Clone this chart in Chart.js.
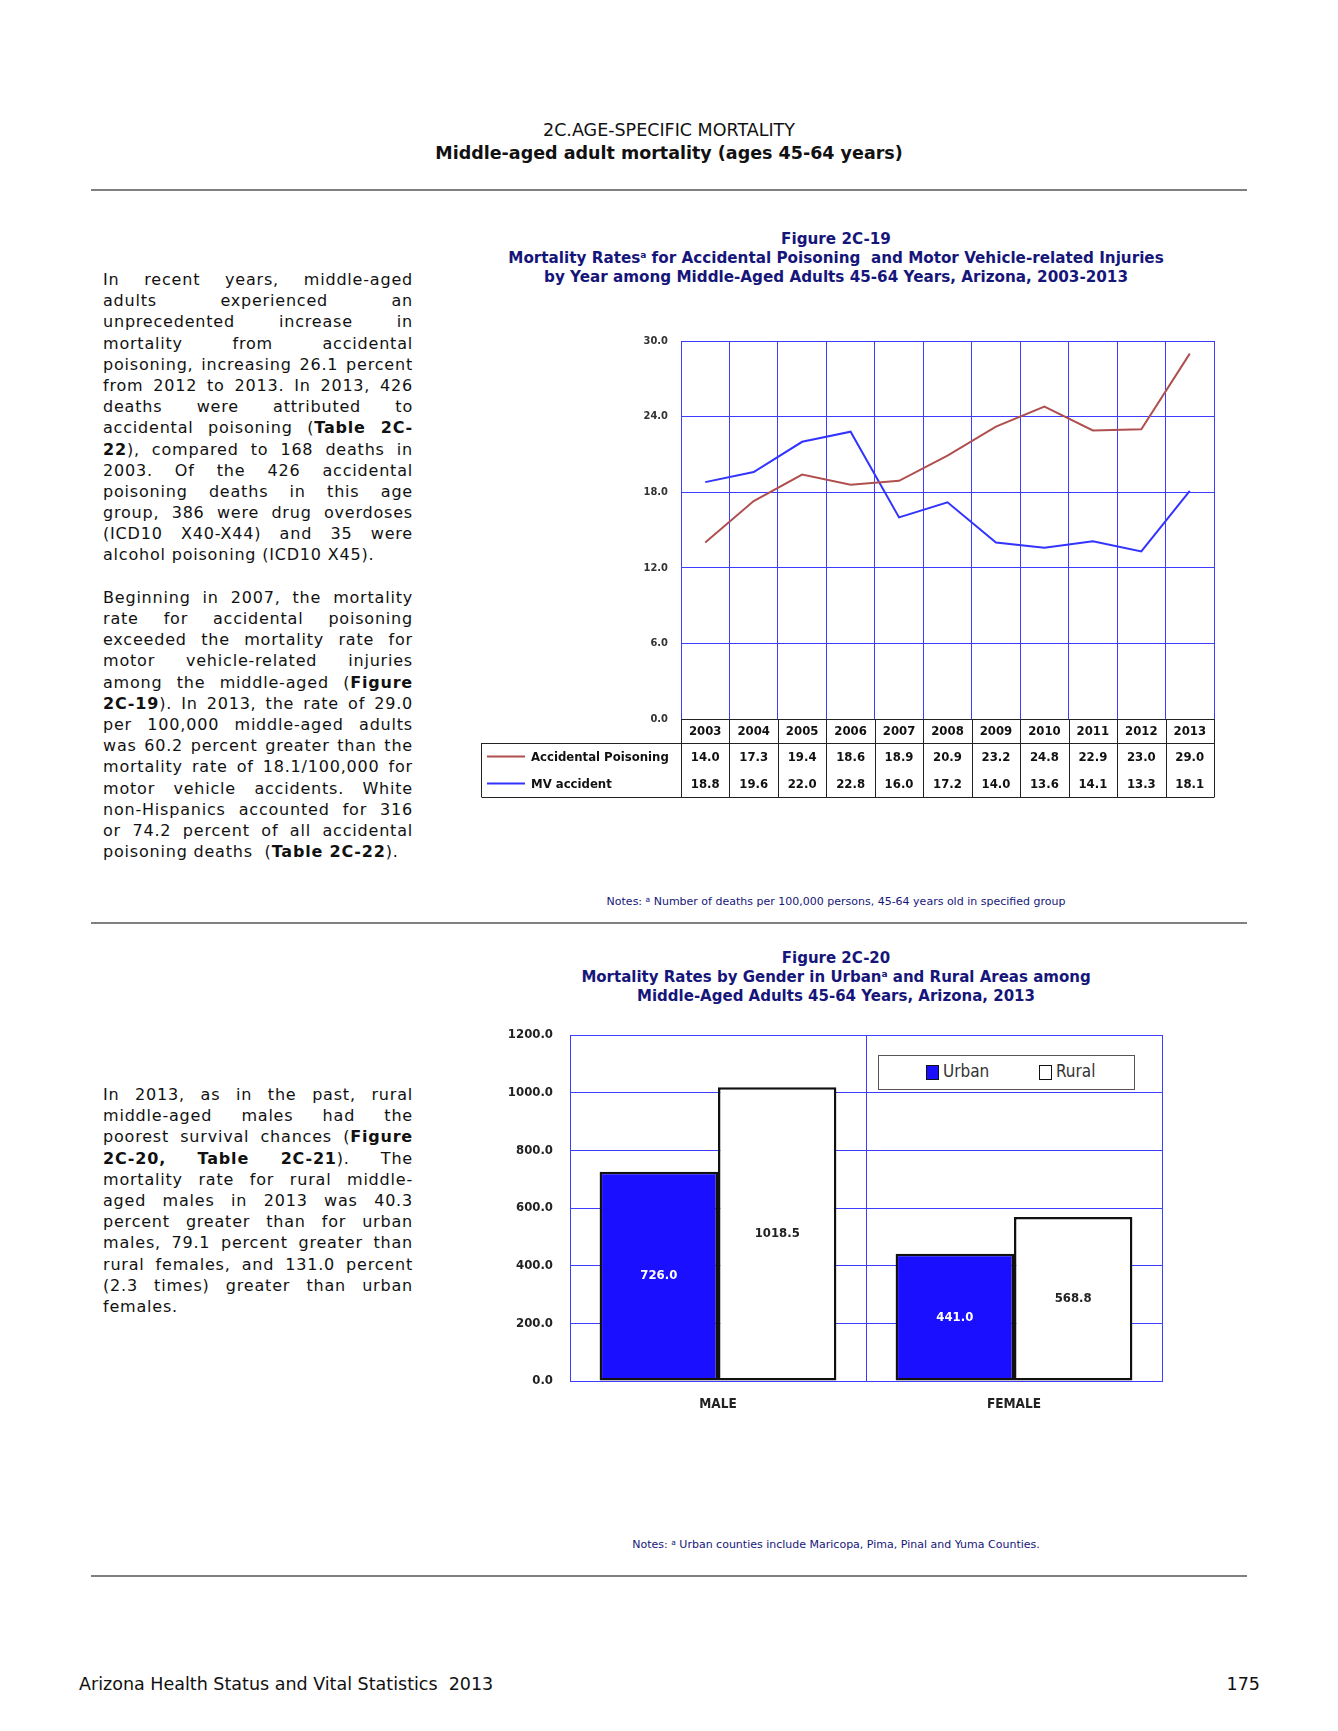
<!DOCTYPE html>
<html>
<head>
<meta charset="utf-8">
<script src="https://cdn.jsdelivr.net/npm/chart.js@4.4.0/dist/chart.umd.min.js"></script>
<style>
body { margin: 0; background: #fff; }
#page { position: relative; width: 1338px; height: 1731px; overflow: hidden; font-family: 'DejaVu Sans', Verdana, sans-serif; color: #111; }
.hr { position: absolute; left: 91px; width: 1156px; height: 0; border-top: 2px solid #808080; }
.head { position: absolute; left: 0; width: 1338px; text-align: center; font-size: 17.5px; line-height: 22px; }
.col { position: absolute; left: 103px; width: 310px; font-size: 16px; line-height: 21.2px; letter-spacing: 0.8px; }
.col div { text-align: justify; text-align-last: justify; height: 21.2px; }
.col div.last { text-align-last: left; }
.figt { position: absolute; left: 436px; width: 800px; text-align: center; color: #16167a; font-weight: bold; line-height: 19px; }
.figt sup { font-size: 9px; vertical-align: 5px; line-height: 0; }
.note { position: absolute; left: 486px; width: 700px; text-align: center; color: #16167a; font-size: 11px; }
.note sup { font-size: 7.5px; vertical-align: 3px; line-height: 0; }
.cv { position: absolute; }
#legend { position: absolute; left: 878px; top: 1055px; width: 255px; height: 33px; border: 1.5px solid #555; background: #fff; font-family: 'DejaVu Sans Condensed', 'Liberation Sans Narrow', 'Liberation Sans', sans-serif; font-size: 17px; color: #333; }
#legend .sw { position: absolute; top: 9px; width: 11px; height: 13px; border: 1.5px solid #111; }
#legend .lt { position: absolute; top: 5px; }
.foot { position: absolute; top: 1674px; font-size: 17.5px; color: #111; }
</style>
</head>
<body>
<div id="page">
  <div class="head" style="top:119px;">2C.AGE-SPECIFIC MORTALITY</div>
  <div class="head" style="top:142px;font-weight:bold;">Middle-aged adult mortality (ages 45-64 years)</div>
  <div class="hr" style="top:189px;"></div>

  <div class="col" style="top:269px;">
    <div>In recent years, middle-aged</div>
    <div>adults experienced an</div>
    <div>unprecedented increase in</div>
    <div>mortality from accidental</div>
    <div>poisoning, increasing 26.1 percent</div>
    <div>from 2012 to 2013. In 2013, 426</div>
    <div>deaths were attributed to</div>
    <div>accidental poisoning (<b>Table 2C-</b></div>
    <div><b>22</b>), compared to 168 deaths in</div>
    <div>2003. Of the 426 accidental</div>
    <div>poisoning deaths in this age</div>
    <div>group, 386 were drug overdoses</div>
    <div>(ICD10 X40-X44) and 35 were</div>
    <div class="last">alcohol poisoning (ICD10 X45).</div>
    <div class="last"></div>
    <div>Beginning in 2007, the mortality</div>
    <div>rate for accidental poisoning</div>
    <div>exceeded the mortality rate for</div>
    <div>motor vehicle-related injuries</div>
    <div>among the middle-aged (<b>Figure</b></div>
    <div><b>2C-19</b>). In 2013, the rate of 29.0</div>
    <div>per 100,000 middle-aged adults</div>
    <div>was 60.2 percent greater than the</div>
    <div>mortality rate of 18.1/100,000 for</div>
    <div>motor vehicle accidents. White</div>
    <div>non-Hispanics accounted for 316</div>
    <div>or 74.2 percent of all accidental</div>
    <div class="last">poisoning deaths &nbsp;(<b>Table 2C-22</b>).</div>
  </div>

  <div class="figt" style="top:230px;font-size:15.2px;">
    Figure 2C-19<br>
    Mortality Rates<sup>a</sup> for Accidental Poisoning &nbsp;and Motor Vehicle-related Injuries<br>
    by Year among Middle-Aged Adults 45-64 Years, Arizona, 2003-2013
  </div>

  <canvas id="lineChart" class="cv" style="left:470px;top:320px;" width="760" height="490"></canvas>

  <div class="note" style="top:895px;">Notes: <sup>a</sup> Number of deaths per 100,000 persons, 45-64 years old in specified group</div>
  <div class="hr" style="top:922px;"></div>

  <div class="figt" style="top:949px;font-size:15px;">
    Figure 2C-20<br>
    Mortality Rates by Gender in Urban<sup>a</sup> and Rural Areas among<br>
    Middle-Aged Adults 45-64 Years, Arizona, 2013
  </div>

  <div class="col" style="top:1084px;">
    <div>In 2013, as in the past, rural</div>
    <div>middle-aged males had the</div>
    <div>poorest survival chances (<b>Figure</b></div>
    <div><b>2C-20, Table 2C-21</b>). The</div>
    <div>mortality rate for rural middle-</div>
    <div>aged males in 2013 was 40.3</div>
    <div>percent greater than for urban</div>
    <div>males, 79.1 percent greater than</div>
    <div>rural females, and 131.0 percent</div>
    <div>(2.3 times) greater than urban</div>
    <div class="last">females.</div>
  </div>

  <canvas id="barChart" class="cv" style="left:460px;top:1020px;" width="720" height="410"></canvas>
  <div id="legend">
    <div class="sw" style="left:47px;background:#1a10ff;"></div><div class="lt" style="left:64px;">Urban</div>
    <div class="sw" style="left:160px;background:#fff;"></div><div class="lt" style="left:177px;">Rural</div>
  </div>

  <div class="note" style="top:1538px;">Notes: <sup>a</sup> Urban counties include Maricopa, Pima, Pinal and Yuma Counties.</div>
  <div class="hr" style="top:1575px;"></div>

  <div class="foot" style="left:79px;">Arizona Health Status and Vital Statistics &nbsp;2013</div>
  <div class="foot" style="left:1160px;width:100px;text-align:right;">175</div>
</div>

<script>
const years = ['2003','2004','2005','2006','2007','2008','2009','2010','2011','2012','2013'];
const poisoning = [14.0, 17.3, 19.4, 18.6, 18.9, 20.9, 23.2, 24.8, 22.9, 23.0, 29.0];
const mvAccident = [18.8, 19.6, 22.0, 22.8, 16.0, 17.2, 14.0, 13.6, 14.1, 13.3, 18.1];

const genders = ['MALE', 'FEMALE'];
const urban = [726.0, 441.0];
const rural = [1018.5, 568.8];

const narrow = "'DejaVu Sans Condensed', 'Liberation Sans Narrow', 'Liberation Sans', sans-serif";
const gridBlue = '#3d3dff';
const poisonColor = '#b04f4f';
const mvColor = '#3333ff';

// table under the line chart, laid out on the x scale
const tablePlugin = {
  id: 'dataTable',
  afterDraw(chart) {
    const { ctx, chartArea } = chart;
    const x = chart.scales.x;
    const half = (x.getPixelForValue(1) - x.getPixelForValue(0)) / 2;
    const top = chartArea.bottom;
    const r1 = top + 24, r2 = r1 + 27, r3 = r2 + 27;
    const legL = 11.5;
    const right = Math.round(x.getPixelForValue(years.length - 1) + half) + 0.5;
    ctx.save();
    ctx.strokeStyle = '#222';
    ctx.lineWidth = 1;
    ctx.beginPath();
    for (let i = 0; i <= years.length; i++) {
      const b = Math.round(x.getPixelForValue(i) - half) + 0.5;
      ctx.moveTo(b, top);
      ctx.lineTo(b, r3);
    }
    ctx.moveTo(legL, r1 + 0.5); ctx.lineTo(right, r1 + 0.5);
    ctx.moveTo(legL, r3 + 0.5); ctx.lineTo(right, r3 + 0.5);
    ctx.moveTo(legL, r1); ctx.lineTo(legL, r3);
    ctx.stroke();

    ctx.textAlign = 'center';
    ctx.textBaseline = 'middle';
    ctx.fillStyle = '#111';
    ctx.font = 'bold 13px ' + narrow;
    years.forEach((y, i) => {
      const cx = x.getPixelForValue(i);
      ctx.fillText(y, cx, (top + r1) / 2 + 1);
      ctx.fillText(poisoning[i].toFixed(1), cx, (r1 + r2) / 2 + 1);
      ctx.fillText(mvAccident[i].toFixed(1), cx, (r2 + r3) / 2 + 1);
    });

    const rows = [['Accidental Poisoning', poisonColor, (r1 + r2) / 2], ['MV accident', mvColor, (r2 + r3) / 2]];
    rows.forEach(([label, color, cy]) => {
      ctx.strokeStyle = color;
      ctx.lineWidth = 2;
      ctx.beginPath();
      ctx.moveTo(17, cy);
      ctx.lineTo(55, cy);
      ctx.stroke();
      ctx.textAlign = 'left';
      ctx.fillText(label, 61, cy + 1);
    });
    ctx.restore();
  }
};

new Chart(document.getElementById('lineChart'), {
  type: 'line',
  data: {
    labels: years,
    datasets: [
      { label: 'Accidental Poisoning', data: poisoning, borderColor: poisonColor, borderWidth: 2, pointRadius: 0, tension: 0 },
      { label: 'MV accident', data: mvAccident, borderColor: mvColor, borderWidth: 2, pointRadius: 0, tension: 0 }
    ]
  },
  options: {
    responsive: false,
    animation: false,
    layout: { padding: { top: 21, right: 16, left: 0, bottom: 13 } },
    plugins: { legend: { display: false }, tooltip: { enabled: false } },
    scales: {
      x: {
        offset: true,
        grid: { offset: true, color: gridBlue, drawTicks: false },
        border: { color: '#222' },
        ticks: { display: false },
        afterFit: (s) => { s.height = 78; }
      },
      y: {
        min: 0, max: 30,
        grid: { color: gridBlue, drawTicks: false },
        border: { color: gridBlue },
        ticks: { stepSize: 6, padding: 13, color: '#333', font: { family: narrow, size: 11, weight: 'bold' }, callback: (v) => v.toFixed(1) },
        afterFit: (s) => { s.width = 211; }
      }
    }
  },
  plugins: [tablePlugin]
});

// value labels centred in each bar
const barLabels = {
  id: 'barLabels',
  afterDatasetsDraw(chart) {
    const { ctx } = chart;
    ctx.save();
    ctx.font = 'bold 13px ' + narrow;
    ctx.textAlign = 'center';
    ctx.textBaseline = 'middle';
    chart.data.datasets.forEach((ds, di) => {
      chart.getDatasetMeta(di).data.forEach((bar, i) => {
        ctx.fillStyle = di === 0 ? '#fff' : '#222';
        ctx.fillText(ds.data[i].toFixed(1), bar.x, (bar.y + bar.base) / 2);
      });
    });
    ctx.restore();
  }
};

new Chart(document.getElementById('barChart'), {
  type: 'bar',
  data: {
    labels: genders,
    datasets: [
      { label: 'Urban', data: urban, backgroundColor: '#1a10ff', borderColor: '#111', borderWidth: 2.5, borderSkipped: false, categoryPercentage: 0.8, barPercentage: 1.0 },
      { label: 'Rural', data: rural, backgroundColor: '#fff', borderColor: '#111', borderWidth: 2.5, borderSkipped: false, categoryPercentage: 0.8, barPercentage: 1.0 }
    ]
  },
  options: {
    responsive: false,
    animation: false,
    layout: { padding: { top: 15, right: 18, left: 0, bottom: 9 } },
    plugins: { legend: { display: false }, tooltip: { enabled: false } },
    scales: {
      x: {
        grid: { offset: true, color: gridBlue, drawTicks: false },
        border: { color: gridBlue },
        ticks: { padding: 15, color: '#222', font: { family: narrow, size: 13.5, weight: 'bold' } },
        afterFit: (s) => { s.height = 40; }
      },
      y: {
        min: 0, max: 1200,
        grid: { color: gridBlue, drawTicks: true, tickLength: 14, tickColor: 'rgba(0,0,0,0)' },
        border: { color: gridBlue },
        ticks: { stepSize: 200, padding: 3, color: '#222', font: { family: narrow, size: 13, weight: 'bold' }, callback: (v) => v.toFixed(1) },
        afterFit: (s) => { s.width = 110; }
      }
    }
  },
  plugins: [barLabels]
});
</script>
</body>
</html>
